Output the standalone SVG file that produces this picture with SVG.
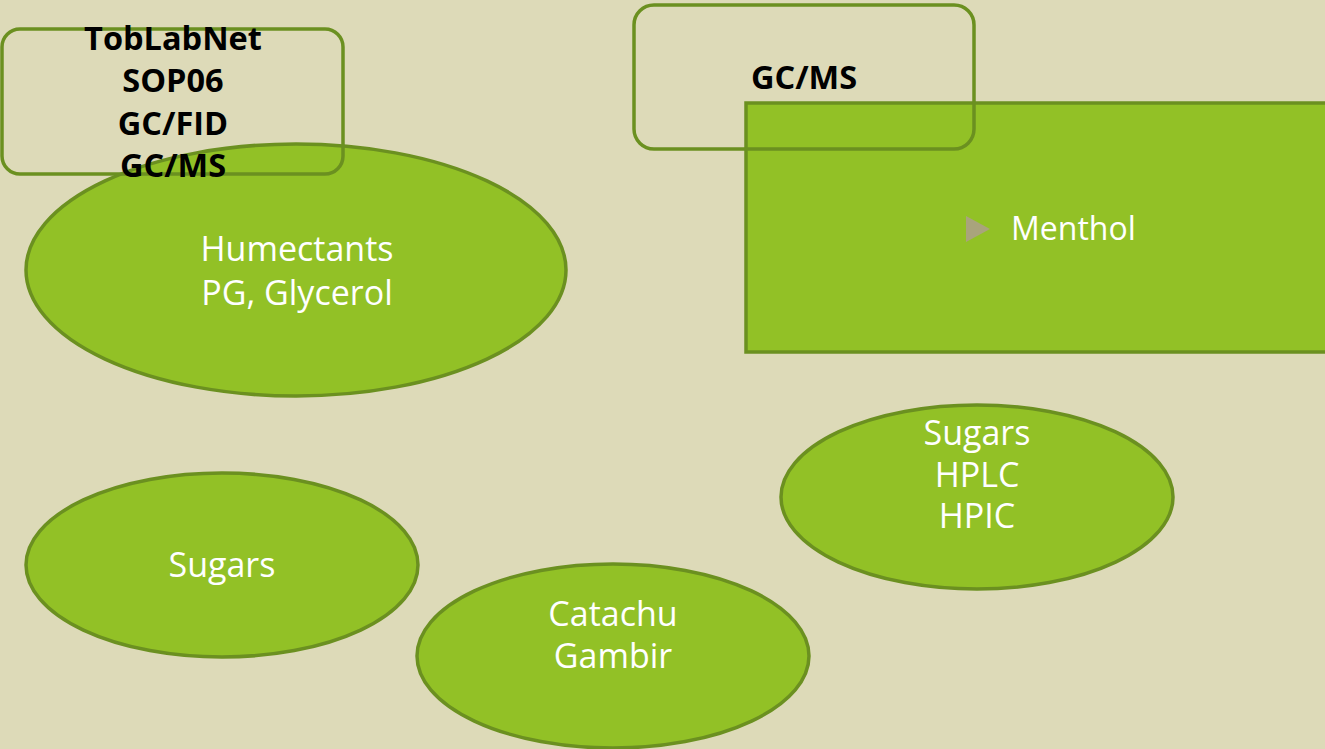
<svg xmlns="http://www.w3.org/2000/svg" width="1325" height="749" viewBox="0 0 1325 749">
<defs>
<style>
.bg{fill:#dddab8}
.shape{fill:#92c126;stroke:#6b9020;stroke-width:3.5}
.frame{fill:none;stroke:#6b9020;stroke-width:3.5}
.wt{font-family:"Open Sans","DejaVu Sans",sans-serif;font-size:34px;fill:#ffffff;text-anchor:middle}
.bt{font-family:"Open Sans","DejaVu Sans",sans-serif;font-size:32.5px;font-weight:bold;fill:#000000;text-anchor:middle}
</style>
<pattern id="tex" width="12" height="12" patternUnits="userSpaceOnUse">
<rect width="12" height="12" fill="#dddab8"/>
<rect x="2" y="3" width="4" height="2" fill="#d6d3b0"/>
<rect x="8" y="8" width="3" height="2" fill="#e2dfbe"/>
</pattern>
</defs>
<rect class="bg" x="0" y="0" width="1325" height="749" fill="url(#tex)"/>
<g id="menthol">
<rect class="shape" x="746" y="103" width="585" height="249"/>
<polygon points="966,216 990,229 966,242" fill="#a9a47c"/>
<text class="wt" x="1011" y="240" style="text-anchor:start;font-size:32px">Menthol</text>
</g>
<g id="gcms-box">
<rect class="frame" x="634" y="5" width="340" height="144" rx="20"/>
<text class="bt" x="804" y="89">GC/MS</text>
</g>
<g id="humectants">
<ellipse class="shape" cx="296" cy="270" rx="270" ry="126"/>
<text class="wt" x="297" y="261">Humectants</text>
<text class="wt" x="297" y="305">PG, Glycerol</text>
</g>
<g id="toblabnet-box">
<rect class="frame" x="2" y="29" width="341" height="145" rx="18"/>
<text class="bt" x="173" y="50">TobLabNet</text>
<text class="bt" x="173" y="92">SOP06</text>
<text class="bt" x="173" y="135">GC/FID</text>
<text class="bt" x="173" y="177">GC/MS</text>
</g>
<g id="sugars">
<ellipse class="shape" cx="222" cy="565" rx="196" ry="92"/>
<text class="wt" x="222" y="577">Sugars</text>
</g>
<g id="catachu">
<ellipse class="shape" cx="613" cy="656" rx="196" ry="92"/>
<text class="wt" x="613" y="626">Catachu</text>
<text class="wt" x="613" y="668">Gambir</text>
</g>
<g id="sugars-hplc">
<ellipse class="shape" cx="977" cy="497" rx="196" ry="92"/>
<text class="wt" x="977" y="445">Sugars</text>
<text class="wt" x="977" y="487">HPLC</text>
<text class="wt" x="977" y="528">HPIC</text>
</g>
<g id="connectors"></g>
</svg>
